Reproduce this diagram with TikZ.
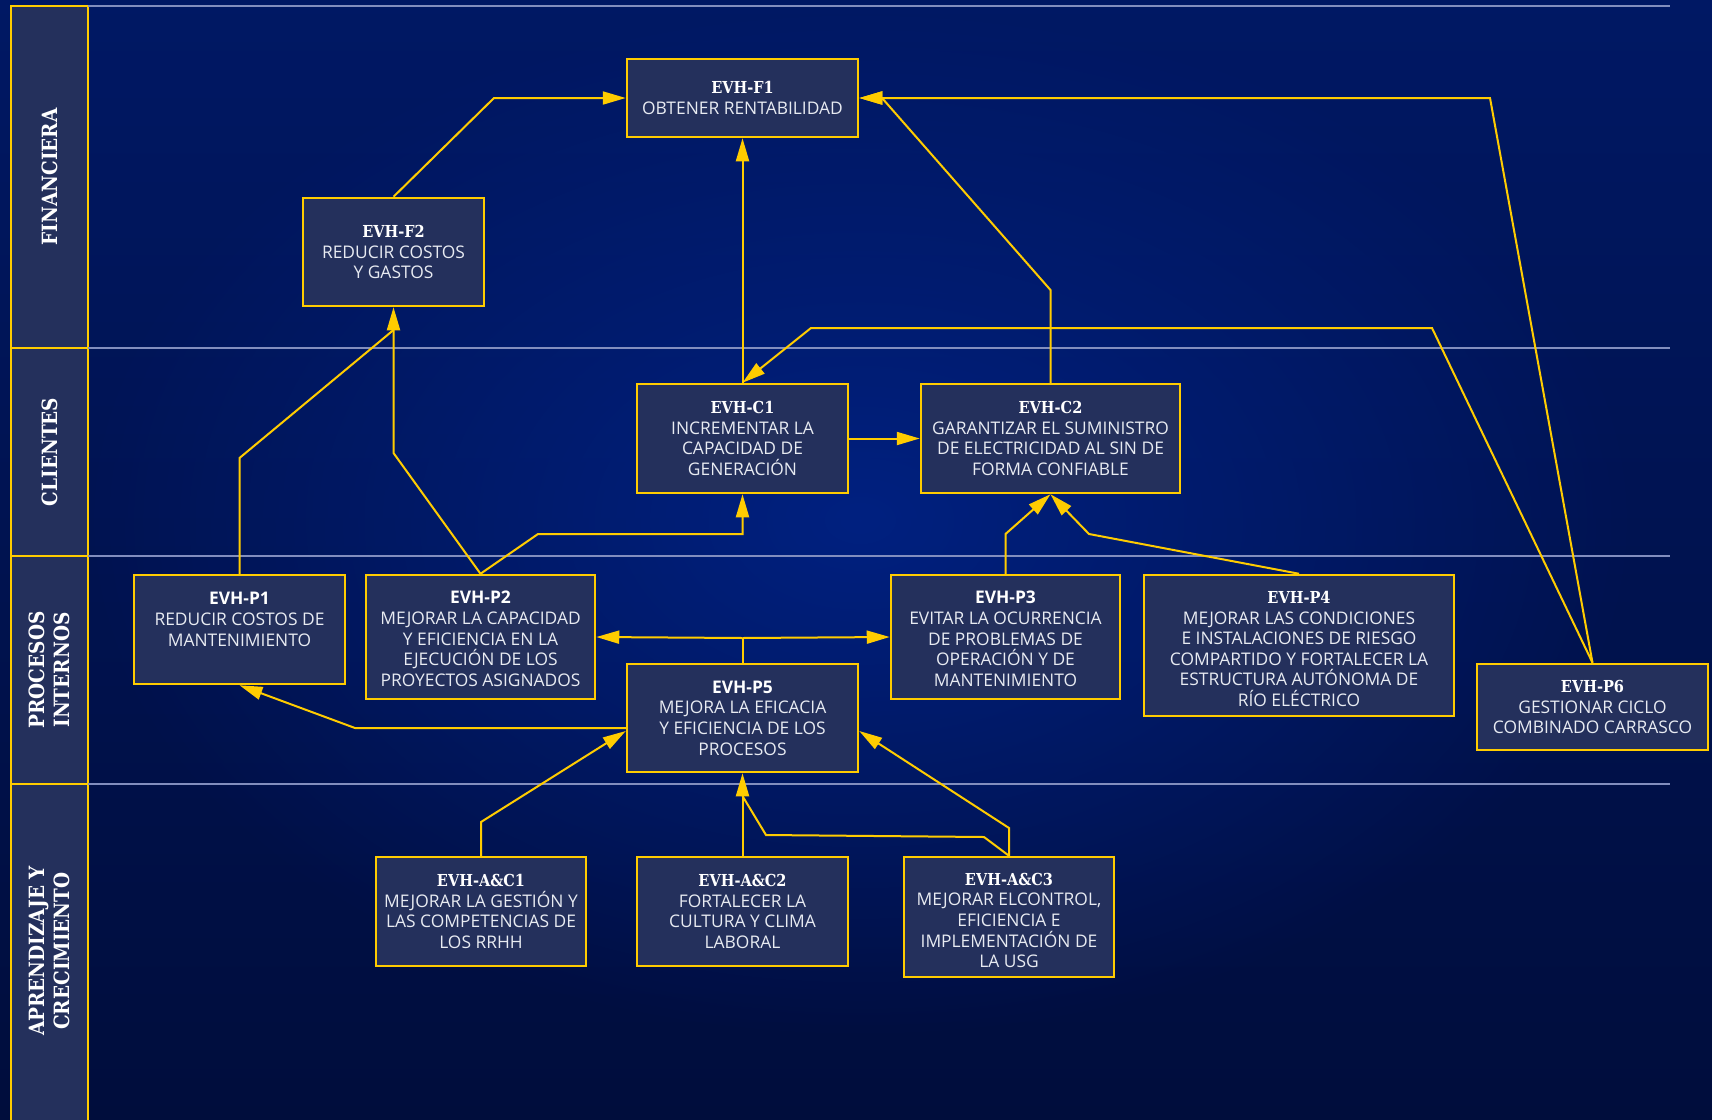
\documentclass[tikz,border=0pt]{standalone}
\usepackage{fontspec}
\setmainfont{Open Sans}
\newfontfamily\slab{DejaVu Serif}[FakeStretch=0.88]
\usetikzlibrary{arrows.meta,calc,fadings}
\tikzfading[name=glowfade, inner color=transparent!0, outer color=transparent!100]
\definecolor{bgTop}{RGB}{0,24,100}
\definecolor{bgBot}{RGB}{0,13,60}
\definecolor{bgGlow}{RGB}{0,36,140}
\definecolor{boxfill}{RGB}{36,48,92}
\definecolor{gold}{RGB}{255,204,0}
\definecolor{gridc}{RGB}{130,142,190}
\definecolor{txt}{RGB}{232,235,242}
\newcommand\tslab[1]{{\slab\bfseries\fontsize{16.5}{20.6}\selectfont\color{white}#1}}
\newcommand\tsans[1]{{\bfseries\color{white}#1}}
\begin{document}
\begin{tikzpicture}[x=1pt,y=-1pt,
  obj/.style={draw=gold, line width=2.5pt, fill=boxfill, inner sep=0pt, align=center,
    text=txt, font=\fontsize{17.4}{20.6}\selectfont},
  lane/.style={draw=gold, line width=2.5pt, fill=boxfill},
  lanetxt/.style={rotate=90, align=center, text=white, inner sep=0pt,
    font=\slab\bfseries\fontsize{21}{25}\selectfont},
  gridln/.style={draw=gridc, line width=1.6pt},
  link/.style={draw=gold, line width=2pt, line join=miter},
  arr/.style={link, -{Triangle[length=23pt,width=13pt]}},
]
\useasboundingbox (0,0) rectangle (1712,1119);
\shade[top color=bgTop, bottom color=bgBot] (0,0) rectangle (1712,1119);
\fill[bgGlow, path fading=glowfade, opacity=0.8] (860,520) ellipse (780 and 520);

% lane column
\draw[lane] (11,6) rectangle (88,348);
\draw[lane] (11,348) rectangle (88,556);
\draw[lane] (11,556) rectangle (88,784);
\draw[lane] (11,784) rectangle (88,1135);
\node[lanetxt] (Lfin) at (49.5,177) {FINANCIERA};
\node[lanetxt] (Lcli) at (49.5,452) {CLIENTES};
\node[lanetxt] (Lpro) at (49.5,670) {PROCESOS\\INTERNOS};
\node[lanetxt] (Lapr) at (49.5,951) {APRENDIZAJE Y\\CRECIMIENTO};

% lane separators
\draw[gridln] (88,6) -- (1670,6);
\draw[gridln] (88,348) -- (1670,348);
\draw[gridln] (88,556) -- (1670,556);
\draw[gridln] (88,784) -- (1670,784);

% objectives
\node[obj, minimum width=231, minimum height=78] (F1) at (742.5,98)
  {\tslab{EVH-F1}\\OBTENER RENTABILIDAD};
\node[obj, minimum width=181, minimum height=108] (F2) at (393.5,252)
  {\tslab{EVH-F2}\\REDUCIR COSTOS\\Y GASTOS};
\node[obj, minimum width=211, minimum height=109] (C1) at (742.5,438.5)
  {\tslab{EVH-C1}\\INCREMENTAR LA\\CAPACIDAD DE\\GENERACIÓN};
\node[obj, minimum width=259, minimum height=109] (C2) at (1050.5,438.5)
  {\tslab{EVH-C2}\\GARANTIZAR EL SUMINISTRO\\DE ELECTRICIDAD AL SIN DE\\FORMA CONFIABLE};
\node[obj, minimum width=211, minimum height=109] (P1) at (239.5,629.5)
  {\tsans{EVH-P1}\\REDUCIR COSTOS DE\\MANTENIMIENTO\\~};
\node[obj, minimum width=229, minimum height=124] (P2) at (480.5,637)
  {\rule{0pt}{16.4pt}\tsans{EVH-P2}\\MEJORAR LA CAPACIDAD\\Y EFICIENCIA EN LA\\EJECUCIÓN DE LOS\\PROYECTOS ASIGNADOS};
\node[obj, minimum width=229, minimum height=124] (P3) at (1005.5,637)
  {\rule{0pt}{16.4pt}\tsans{EVH-P3}\\EVITAR LA OCURRENCIA\\DE PROBLEMAS DE\\OPERACIÓN Y DE\\MANTENIMIENTO};
\node[obj, minimum width=310, minimum height=141] (P4) at (1299,645.5)
  {\rule{0pt}{19pt}\tslab{EVH-P4}\\MEJORAR LAS CONDICIONES\\E INSTALACIONES DE RIESGO\\COMPARTIDO Y FORTALECER LA\\ESTRUCTURA AUTÓNOMA DE\\RÍO ELÉCTRICO};
\node[obj, minimum width=231, minimum height=108] (P5) at (742.5,718)
  {\tsans{EVH-P5}\\MEJORA LA EFICACIA\\Y EFICIENCIA DE LOS\\PROCESOS};
\node[obj, minimum width=231, minimum height=86] (P6) at (1592.5,707)
  {\tslab{EVH-P6}\\GESTIONAR CICLO\\COMBINADO CARRASCO};
\node[obj, minimum width=210, minimum height=109] (AC1) at (481,911.5)
  {\tslab{EVH-A\&C1}\\MEJORAR LA GESTIÓN Y\\LAS COMPETENCIAS DE\\LOS RRHH};
\node[obj, minimum width=211, minimum height=109] (AC2) at (742.5,911.5)
  {\tslab{EVH-A\&C2}\\FORTALECER LA\\CULTURA Y CLIMA\\LABORAL};
\node[obj, minimum width=210, minimum height=120] (AC3) at (1009,917)
  {\rule{0pt}{19pt}\tslab{EVH-A\&C3}\\MEJORAR ELCONTROL,\\EFICIENCIA E\\IMPLEMENTACIÓN DE\\LA USG};

% bend points
\coordinate (jP5) at (742.5,638);
\coordinate (F2base) at (393.5,330);
\coordinate (AC2base) at (742.5,796);

% connectors
\draw[arr] (F2.north) -- (494,98) -- (F1.west);
\draw[arr] (C1.north) -- (F1.south);
\draw[arr] (C2.north) -- (1050.5,290) -- (882,98) -- (F1.east);
\draw[arr] (P6.north) -- (1490,98) -- (F1.east);
\draw[arr] (P6.north) -- (1432,328) -- (811,328) -- (C1.north);
\draw[arr] (C1.east) -- (C2.west);
\draw[link] (P1.north) -- (239.5,458) -- (F2base);
\draw[arr] (P2.north) -- (393.5,453) -- (F2.south);
\draw[arr] (P2.north) -- (538,534) -- (742.5,534) -- (C1.south);
\draw[arr] (P3.north) -- (1005.5,534) -- (C2.south);
\draw[arr] (P4.north) -- (1089,534) -- (C2.south);
\draw[link] (P5.north) -- (jP5);
\draw[arr] (jP5) -- (P2.east);
\draw[arr] (jP5) -- (P3.west);
\draw[arr] ($(P5.west)+(0,10)$) -- (355,728) -- (P1.south);
\draw[arr] (AC1.north) -- (481,822) -- ($(P5.west)+(0,13)$);
\draw[arr] (AC2.north) -- (P5.south);
\draw[arr] (AC3.north) -- (1009,828) -- ($(P5.east)+(0,13)$);
\draw[link] (AC3.north) -- (984,837) -- (766,835) -- (AC2base);
\end{tikzpicture}
\end{document}
